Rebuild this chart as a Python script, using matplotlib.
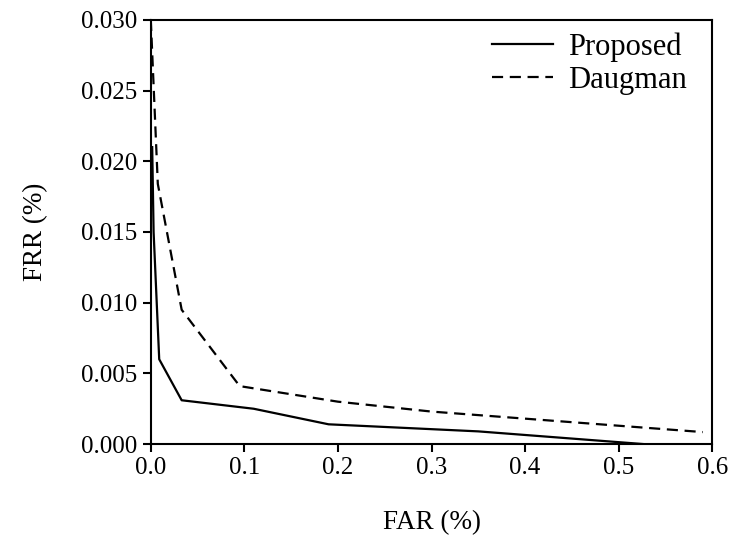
import numpy as np
import matplotlib
matplotlib.use("Agg")
import matplotlib.pyplot as plt

# FAR / FRR
far_proposed = [0.0015, 0.003, 0.009, 0.033, 0.11, 0.19, 0.35, 0.527]
frr_proposed = [0.021, 0.0150, 0.0060, 0.0031, 0.0025, 0.0014, 0.0009, 0.0]

far_daugman = [0.0, 0.0075, 0.033, 0.095, 0.2, 0.3, 0.59]
frr_daugman = [0.030, 0.0184, 0.0095, 0.0041, 0.0030, 0.0023, 0.00085]

xticks = [0.0, 0.1, 0.2, 0.3, 0.4, 0.5, 0.6]
yticks = [0.000, 0.005, 0.010, 0.015, 0.020, 0.025, 0.030]

plt.rcParams['font.family'] = ['Liberation Serif', 'DejaVu Serif']
plt.rcParams['font.size'] = 18

fig = plt.figure(figsize=(7.32, 5.51), dpi=100)
ax = fig.add_axes([0.206, 0.194, 0.767, 0.770])

ax.plot(far_proposed, frr_proposed, color='black', linewidth=1.6, label='Proposed')
ax.plot(far_daugman, frr_daugman, color='black', linewidth=1.6,
        linestyle=(0, (5, 3)), label='Daugman')

ax.set_xlim(0, 0.6)
ax.set_ylim(0, 0.030)
ax.set_xticks(xticks)
ax.set_xticklabels(["%.1f" % v for v in xticks])
ax.set_yticks(yticks)
ax.set_yticklabels(["%.3f" % v for v in yticks])
ax.tick_params(direction='out', length=6, width=1.5, labelsize=18)

for s in ax.spines.values():
    s.set_linewidth(1.5)

ax.set_xlabel('FAR (%)', fontsize=19.5, labelpad=22)
ax.set_ylabel('FRR (%)', fontsize=19.5, labelpad=24)

ax.legend(loc='upper right', bbox_to_anchor=(0.977, 1.0), frameon=False,
          fontsize=22, handlelength=2.0, handletextpad=0.5,
          borderaxespad=0.0, labelspacing=0.15)

fig.savefig('out.png', dpi=100)
